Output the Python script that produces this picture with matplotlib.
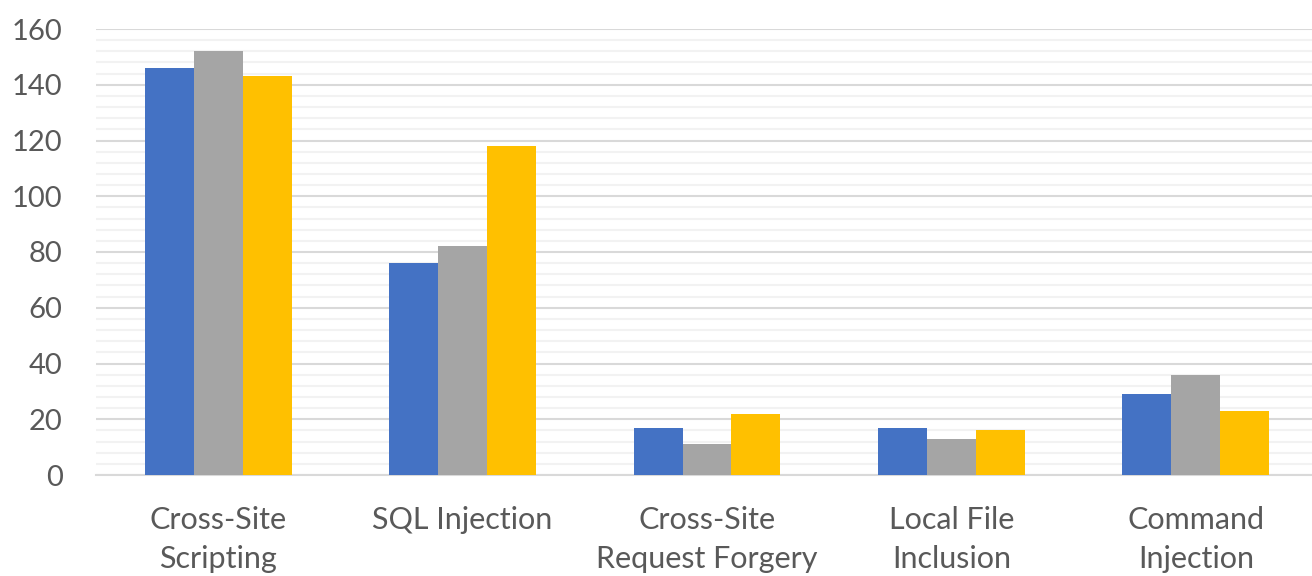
import numpy as np
import matplotlib
matplotlib.use('Agg')
import matplotlib.pyplot as plt
from matplotlib.ticker import MultipleLocator

# chart data
categories = ['Cross-Site\nScripting', 'SQL Injection', 'Cross-Site\nRequest Forgery',
              'Local File\nInclusion', 'Command\nInjection']
series_1 = [146, 76, 17, 17, 29]
series_2 = [152, 82, 11, 13, 36]
series_3 = [143, 118, 22, 16, 23]
y_ticks = [0, 20, 40, 60, 80, 100, 120, 140, 160]

colors = ['#4472C4', '#A5A5A5', '#FFC000']

plt.rcParams['font.family'] = ['Lato', 'DejaVu Sans']

fig = plt.figure(figsize=(13.12, 5.76), dpi=100)
ax = fig.add_axes([96 / 1312, 1 - 475 / 576, 1222 / 1312, 446 / 576])

x = np.arange(len(categories))
w = 0.2
for i, (vals, col) in enumerate(zip([series_1, series_2, series_3], colors)):
    ax.bar(x + (i - 1) * w, vals, width=w, color=col, zorder=3)

ax.set_xlim(-0.5, len(categories) - 0.5)
ax.set_ylim(0, 160)
ax.set_yticks(y_ticks)
ax.yaxis.set_minor_locator(MultipleLocator(4))
ax.grid(axis='y', which='major', color='#D9D9D9', linewidth=1.5, zorder=0)
ax.grid(axis='y', which='minor', color='#F2F2F2', linewidth=1.5, zorder=0)

for side in ['top', 'right', 'left']:
    ax.spines[side].set_visible(False)
ax.spines['bottom'].set_color('#D9D9D9')
ax.spines['bottom'].set_linewidth(1.5)

ax.set_xticks(x)
ax.set_xticklabels(categories, linespacing=1.5)
ax.tick_params(axis='both', which='both', length=0, colors='#595959')
ax.tick_params(axis='x', labelsize=22, pad=22)
ax.tick_params(axis='y', labelsize=21, pad=24)

fig.savefig('out.png', dpi=100)
